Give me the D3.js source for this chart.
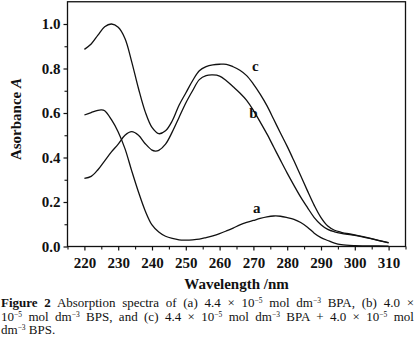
<!DOCTYPE html>
<html>
<head>
<meta charset="utf-8">
<script src="https://cdn.jsdelivr.net/npm/d3@7"></script>
<style>
  html, body { margin: 0; padding: 0; background: #fff; }
  #wrap { position: relative; width: 416px; height: 347px; overflow: hidden; }
  svg { position: absolute; left: 0; top: 0; }
  .cap { position: absolute; left: 1px; width: 413px; font-family: "Liberation Serif", serif; font-size: 13px; line-height: 13px; height: 13px; color: #111; white-space: nowrap; }
  .just { text-align: justify; text-align-last: justify; }
  .cap sup { font-size: 7.5px; vertical-align: 4px; line-height: 0; }
</style>
</head>
<body>
<div id="wrap"></div>
<script>
// ---- data ----
const wlA = [220,222,224,225,226,228,230,232,234,236,238,240,242,244,246,248,250,252,254,256,258,260,262,264,266,268,270,272,274,276,278,280,282,284,286,288,290,292,294,296,300,305,310];
const absA = [0.591,0.602,0.612,0.614,0.610,0.570,0.515,0.440,0.340,0.245,0.160,0.097,0.065,0.046,0.036,0.030,0.029,0.030,0.033,0.040,0.048,0.058,0.070,0.083,0.097,0.108,0.117,0.126,0.133,0.137,0.136,0.130,0.122,0.108,0.087,0.060,0.040,0.027,0.015,0.008,0.004,0.003,0.002];

const wlB = [220,222,224,226,228,230,232,234,236,238,240,241,242,244,246,248,250,252,254,256,258,260,262,264,266,268,270,272,274,276,278,280,282,284,286,288,290,292,294,296,300,305,310];
const absB = [0.306,0.315,0.345,0.385,0.425,0.460,0.500,0.516,0.500,0.462,0.433,0.429,0.432,0.460,0.515,0.580,0.645,0.700,0.750,0.768,0.771,0.766,0.745,0.718,0.690,0.657,0.612,0.560,0.506,0.447,0.388,0.330,0.275,0.222,0.175,0.130,0.098,0.077,0.066,0.059,0.050,0.034,0.016];

const wlC = [220,222,224,226,228,230,232,234,236,238,240,242,244,246,248,250,252,254,256,258,260,262,264,266,268,270,272,274,276,278,280,282,284,286,288,290,292,294,296,300,305,310];
const absC = [0.886,0.910,0.950,0.988,1.000,0.985,0.935,0.830,0.710,0.605,0.535,0.507,0.520,0.565,0.635,0.690,0.745,0.790,0.808,0.816,0.819,0.819,0.808,0.792,0.768,0.730,0.685,0.633,0.572,0.510,0.450,0.385,0.318,0.250,0.185,0.130,0.092,0.073,0.064,0.052,0.035,0.017];

const seriesNames = ["a", "b", "c"];
const labelWl = [271, 270, 270.6];
const labelAbs = [0.152, 0.578, 0.79];

const xTicks = [220,230,240,250,260,270,280,290,300,310];
const xMinor = [215,225,235,245,255,265,275,285,295,305,315];
const yTicks = [0.0,0.2,0.4,0.6,0.8,1.0];
const yMinor = [0.1,0.3,0.5,0.7,0.9];

// ---- layout ----
const W = 416, H = 347;
const L = 67.5, R = 405.5, T = 1.75, B = 246.5;

const svg = d3.select("#wrap").append("svg").attr("width", W).attr("height", H);

const x = d3.scaleLinear().domain([215, 315]).range([L, R]);
const y = d3.scaleLinear().domain([0, 1.1]).range([B, T]);

const tickFont = "'Liberation Serif', 'Times New Roman', serif";

// frame
svg.append("rect").attr("x", L).attr("y", T).attr("width", R - L).attr("height", B - T)
  .attr("fill", "none").attr("stroke", "#111").attr("stroke-width", 1.3);

// x axis
const xAxis = svg.append("g").attr("transform", `translate(0,${B})`)
  .call(d3.axisBottom(x).tickValues(xTicks).tickSize(4).tickPadding(7).tickFormat(d3.format("d")));
xAxis.select(".domain").remove();
xAxis.selectAll("line").attr("stroke", "#111").attr("stroke-width", 1.2);
xAxis.selectAll("text").attr("font-family", tickFont).attr("font-weight", "bold").attr("font-size", "15px").attr("fill", "#111");
const xAxisMinor = svg.append("g").attr("transform", `translate(0,${B})`)
  .call(d3.axisBottom(x).tickValues(xMinor).tickSize(3).tickFormat(""));
xAxisMinor.select(".domain").remove();
xAxisMinor.selectAll("line").attr("stroke", "#111").attr("stroke-width", 1.1);

// y axis
const yAxis = svg.append("g").attr("transform", `translate(${L},0)`)
  .call(d3.axisLeft(y).tickValues(yTicks).tickSize(4).tickPadding(3).tickFormat(d3.format(".1f")));
yAxis.select(".domain").remove();
yAxis.selectAll("line").attr("stroke", "#111").attr("stroke-width", 1.2);
yAxis.selectAll("text").attr("font-family", tickFont).attr("font-weight", "bold").attr("font-size", "15px").attr("fill", "#111");
const yAxisMinor = svg.append("g").attr("transform", `translate(${L},0)`)
  .call(d3.axisLeft(y).tickValues(yMinor).tickSize(3).tickFormat(""));
yAxisMinor.select(".domain").remove();
yAxisMinor.selectAll("line").attr("stroke", "#111").attr("stroke-width", 1.1);

// axis titles
svg.append("text").attr("x", (L + R) / 2).attr("y", 289).attr("text-anchor", "middle")
  .attr("font-family", tickFont).attr("font-weight", "bold").attr("font-size", "15px").attr("fill", "#111")
  .text("Wavelength /nm");
const yt = svg.append("text").attr("transform", "translate(21,119) rotate(-90)").attr("text-anchor", "middle")
  .attr("font-family", tickFont).attr("font-weight", "bold").attr("font-size", "15px").attr("fill", "#111");
yt.append("tspan").text("Asorbance ");
yt.append("tspan").attr("font-style", "italic").text("A");

// curves
const series = [
  {wl: wlA, ab: absA},
  {wl: wlB, ab: absB},
  {wl: wlC, ab: absC}
];
const line = d3.line().x(d => x(d[0])).y(d => y(d[1])).curve(d3.curveCatmullRom.alpha(0.5));
series.forEach(s => {
  const pts = s.wl.map((w, i) => [w, s.ab[i]]);
  svg.append("path").attr("d", line(pts)).attr("fill", "none")
    .attr("stroke", "#111").attr("stroke-width", 1.3);
});

// curve labels
seriesNames.forEach((n, i) => {
  svg.append("text").attr("x", x(labelWl[i])).attr("y", y(labelAbs[i])).attr("text-anchor", "middle")
    .attr("font-family", tickFont).attr("font-weight", "bold").attr("font-size", "15px").attr("fill", "#111")
    .text(n);
});

// caption
const wrap = d3.select("#wrap");
wrap.append("div").attr("class", "cap just").style("top", "296px")
  .html('<b>Figure 2</b> Absorption spectra of (a) 4.4 × 10<sup>−5</sup> mol dm<sup>−3</sup> BPA, (b) 4.0 ×');
wrap.append("div").attr("class", "cap just").style("top", "309.5px")
  .html('10<sup>−5</sup> mol dm<sup>−3</sup> BPS, and (c) 4.4 × 10<sup>−5</sup> mol dm<sup>−3</sup> BPA + 4.0 × 10<sup>−5</sup> mol');
wrap.append("div").attr("class", "cap").style("top", "323px")
  .html('dm<sup>−3</sup> BPS.');
</script>
</body>
</html>
